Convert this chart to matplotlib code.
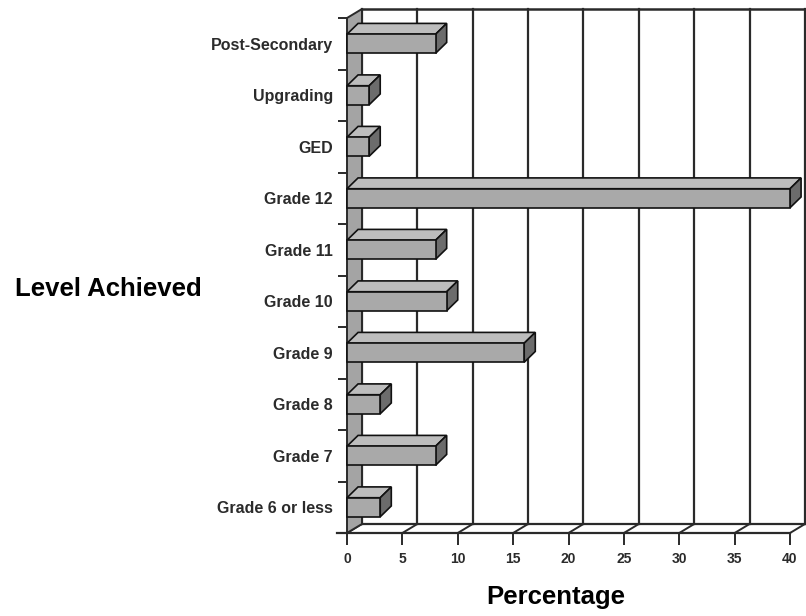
import numpy as np
import matplotlib.pyplot as plt
from matplotlib.patches import Polygon

# survey data, bottom category first
levels = ["Grade 6 or less", "Grade 7", "Grade 8", "Grade 9", "Grade 10",
          "Grade 11", "Grade 12", "GED", "Upgrading", "Post-Secondary"]
percent = [3, 8, 3, 16, 9, 8, 40, 2, 2, 8]
xticks = [0, 5, 10, 15, 20, 25, 30, 35, 40]

plt.rcParams['font.family'] = ['Liberation Sans', 'DejaVu Sans']

fig = plt.figure(figsize=(8.06, 6.16), dpi=100)
W, H = 806, 616
# axes box = front face of the chart
ax = fig.add_axes([347 / W, (H - 533) / H, 443 / W, 515 / H])
ax.set_xlim(0, 40)
ax.set_ylim(-0.5, len(levels) - 0.5)
for s in ax.spines.values():
    s.set_visible(False)
ax.patch.set_alpha(0)

# depth of the box and of the bars (in data units)
dxw, dyw = 1.35, 0.175
dxb, dyb = 1.0, 0.21
hb = 0.37
ytop = len(levels) - 0.5
ybot = -0.5
line = '#2a2a2a'

# back wall grid
for v in xticks:
    ax.plot([v + dxw, v + dxw], [ybot + dyw, ytop + dyw], color=line, lw=1.6,
            clip_on=False, zorder=1)
ax.plot([dxw, 40 + dxw], [ytop + dyw, ytop + dyw], color=line, lw=1.8,
        clip_on=False, zorder=1)

# floor
ax.plot([dxw, 40 + dxw], [ybot + dyw, ybot + dyw], color=line, lw=1.6,
        clip_on=False, zorder=1)
ax.plot([-0.9, 40], [ybot, ybot], color=line, lw=1.6, clip_on=False, zorder=1)
for v in xticks:
    ax.plot([v, v + dxw], [ybot, ybot + dyw], color=line, lw=1.4,
            clip_on=False, zorder=1)

# left wall
wall = Polygon([(0, ybot), (0, ytop), (dxw, ytop + dyw), (dxw, ybot + dyw)],
               closed=True, facecolor='#a4a4a4', edgecolor=line, lw=1.4,
               clip_on=False, zorder=2)
ax.add_patch(wall)

# 3d bars
for i, v in enumerate(percent):
    y0, y1 = i - hb / 2, i + hb / 2
    top = Polygon([(0, y1), (v, y1), (v + dxb, y1 + dyb), (dxb, y1 + dyb)],
                  closed=True, facecolor='#bdbdbd', edgecolor='#111111',
                  lw=1.2, clip_on=False, zorder=3)
    side = Polygon([(v, y0), (v + dxb, y0 + dyb), (v + dxb, y1 + dyb), (v, y1)],
                   closed=True, facecolor='#6c6c6c', edgecolor='#111111',
                   lw=1.2, clip_on=False, zorder=3)
    ax.add_patch(top)
    ax.add_patch(side)
    ax.barh(i, v, height=hb, left=0, color='#a9a9a9', edgecolor='#111111',
            lw=1.2, zorder=4, clip_on=False)

ax.set_yticks(range(len(levels)))
ax.set_yticklabels(levels, fontsize=11.5, fontweight='bold', color='#2b2b2b')
ax.set_yticks(np.arange(len(levels) + 1) - 0.5, minor=True)
ax.tick_params(axis='y', which='major', length=0, pad=10)
ax.tick_params(axis='y', which='minor', length=6.5, width=1.4, color=line)

ax.set_xticks(xticks)
ax.set_xticklabels([str(t) for t in xticks], fontsize=10, fontweight='bold',
                   color='#2b2b2b')
ax.tick_params(axis='x', which='major', length=8.5, width=1.4, color=line,
               pad=5)

fig.text(556 / W, 1 - 597 / H, "Percentage", fontsize=18.5, fontweight='bold',
         ha='center', va='center')
fig.text(108 / W, 1 - 289 / H, "Level Achieved", fontsize=18.5,
         fontweight='bold', ha='center', va='center')

fig.savefig('out.png', dpi=100)
